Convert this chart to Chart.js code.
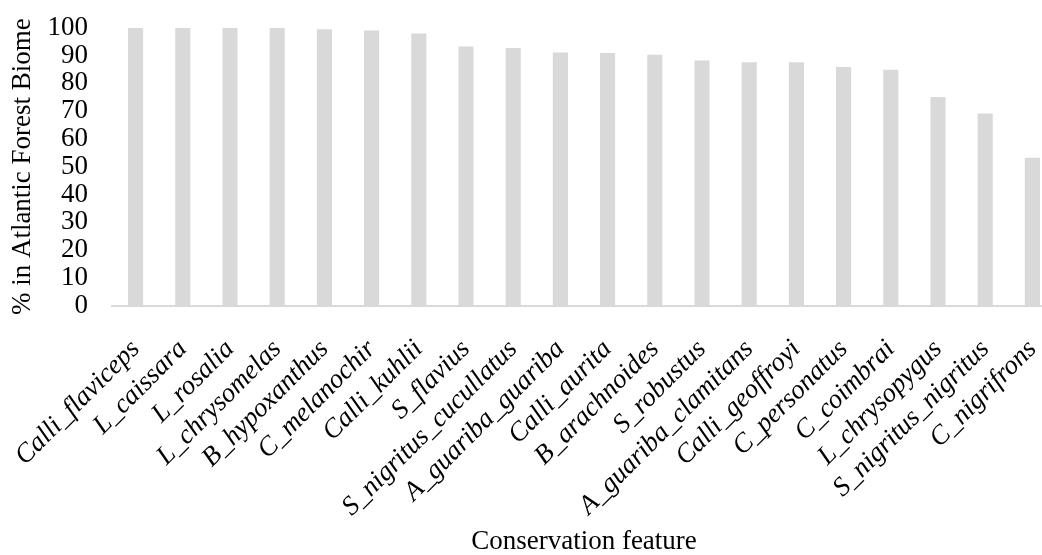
<!DOCTYPE html>
<html>
<head>
<meta charset="utf-8">
<script src="https://cdn.jsdelivr.net/npm/chart.js@4.4.1/dist/chart.umd.min.js"></script>
<style>
  html, body { margin: 0; padding: 0; background: #fff; overflow: hidden; }
  /* plot area runs past the right edge in the original, so the canvas is a bit wider than the window */
  #chart-container { width: 1057px; height: 555px; position: relative; }
</style>
</head>
<body>
<div id="chart-container"><canvas id="myChart"></canvas></div>
<script>
const species = [
    "Calli_flaviceps", "L_caissara", "L_rosalia", "L_chrysomelas", "B_hypoxanthus",
    "C_melanochir", "Calli_kuhlii", "S_flavius", "S_nigritus_cucullatus", "A_guariba_guariba",
    "Calli_aurita", "B_arachnoides", "S_robustus", "A_guariba_clamitans", "Calli_geoffroyi",
    "C_personatus", "C_coimbrai", "L_chrysopygus", "S_nigritus_nigritus", "C_nigrifrons"
];
const pctInBiome = [
    100, 100, 100, 100, 99.4,
    99.0, 97.9, 93.2, 92.7, 91.1,
    90.9, 90.3, 88.2, 87.6, 87.6,
    85.9, 84.9, 75.1, 69.1, 53.2
];
const yTicks = [0, 10, 20, 30, 40, 50, 60, 70, 80, 90, 100];

const serif = "'Liberation Serif', 'Times New Roman', serif";
const grey = "#d9d9d9";

const data = {
    labels: species,
    datasets: [
        {
            label: "% in Atlantic Forest Biome",
            backgroundColor: grey,
            borderWidth: 0,
            data: pctInBiome,
            barPercentage: 0.64,
            categoryPercentage: 0.5,
        },
    ],
};

const config = {
    type: "bar",
    data: data,
    options: {
        responsive: true,
        maintainAspectRatio: false,
        animation: false,
        layout: { padding: { top: 0, right: 1, left: 0, bottom: 0 } },
        plugins: {
            legend: { display: false },
            tooltip: { enabled: false },
        },
        scales: {
            x: {
                // first slanted label hangs out under the y axis, like in the original
                afterFit: (axis) => {
                    axis.paddingLeft = 0;
                    axis.paddingRight = 0;
                    axis.height -= 15; // slanted label box is overestimated
                },
                grid: { display: false },
                border: { display: true, color: grey, width: 2 },
                ticks: {
                    autoSkip: false,
                    minRotation: 45,
                    maxRotation: 45,
                    color: "#000",
                    padding: 20,
                    font: { family: serif, size: 27, style: "italic" },
                },
                title: {
                    display: true,
                    text: "Conservation feature",
                    color: "#000",
                    padding: { top: 0, bottom: 0 },
                    font: { family: serif, size: 27, lineHeight: 1 },
                },
            },
            y: {
                min: 0,
                max: 100,
                afterBuildTicks: (axis) => {
                    axis.ticks = yTicks.map((v) => ({ value: v }));
                },
                afterFit: (axis) => {
                    axis.width = 112;
                    axis.paddingTop = 27.7;
                },
                grid: { display: false },
                border: { display: false },
                ticks: {
                    autoSkip: false,
                    color: "#000",
                    padding: 16,
                    font: { family: serif, size: 27 },
                },
                title: {
                    display: true,
                    text: "% in Atlantic Forest Biome",
                    color: "#000",
                    padding: { top: 7, bottom: 7 },
                    font: { family: serif, size: 27 },
                },
            },
        },
    },
};

const myChart = new Chart(document.getElementById("myChart"), config);
</script>
</body>
</html>
